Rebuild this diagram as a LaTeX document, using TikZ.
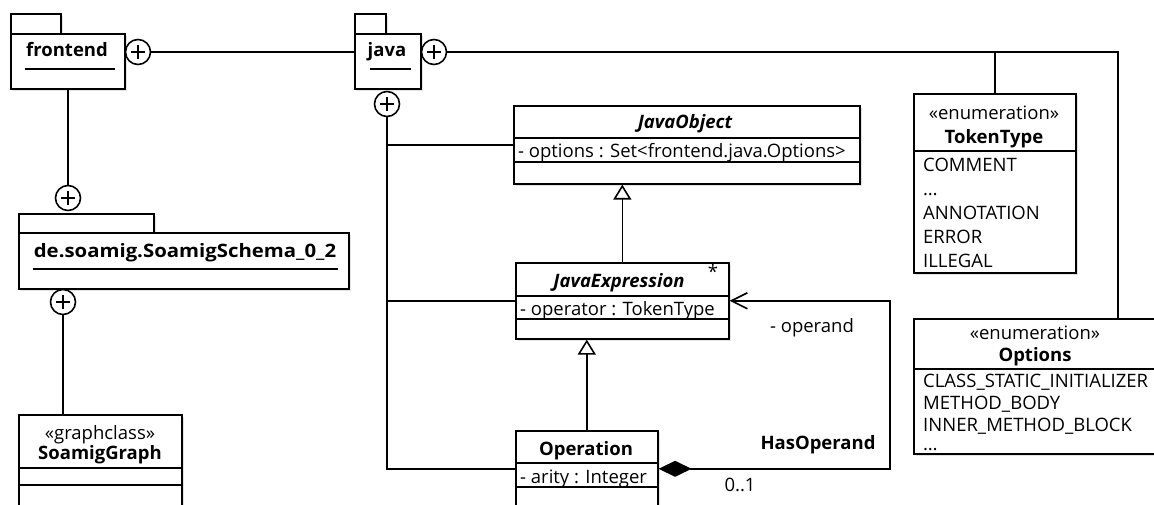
\documentclass[tikz,border=0pt]{standalone}
\usepackage{fontspec}
\setmainfont{Open Sans}
\usepackage{tikz}
\usetikzlibrary{arrows.meta,shadows,positioning}

\newcommand\umlfont{\fontsize{18.5}{24}\selectfont}

\tikzset{
    box/.style={draw, line width=1.6pt, fill=white, anchor=north west, inner sep=0pt,
        drop shadow={shadow xshift=2pt, shadow yshift=-2pt, fill=black!22}},
    lbl/.style={inner sep=0pt, text height=13pt, text depth=0pt, font=\umlfont},
    bold/.style={lbl, font=\umlfont\bfseries},
    boldit/.style={lbl, font=\umlfont\bfseries\itshape},
    link/.style={line width=1.6pt},
    gen/.style={-{Triangle[open, length=15pt, width=18pt, fill=white]}},
    contain/.style={circle, draw, line width=1.6pt, fill=white, minimum size=25pt, inner sep=0pt,
        path picture={
            \draw[line width=1.4pt] ([xshift=-7pt]path picture bounding box.center) -- ([xshift=7pt]path picture bounding box.center)
                ([yshift=-7pt]path picture bounding box.center) -- ([yshift=7pt]path picture bounding box.center);
        }},
}

\begin{document}
\begin{tikzpicture}[x=1pt, y=-1pt]
        \path[use as bounding box, clip] (0,0) rectangle (1154,505);

        \node[box, minimum width=50, minimum height=20] (feTab) at (10,13) {};
        \node[box, minimum width=114, minimum height=55] (fe) at (10,33) {};
        \node[bold] (feName) at (67,50) {frontend};
        \draw[link] (25,69) -- (115,69);

        \node[box, minimum width=31, minimum height=20] (javaTab) at (354,13) {};
        \node[box, minimum width=66, minimum height=55] (java) at (354,33) {};
        \node[bold] (javaName) at (387,50) {java};
        \draw[link] (370,69) -- (411,69);

        \node[box, minimum width=135, minimum height=19] (schTab) at (18,213) {};
        \node[box, minimum width=330, minimum height=56] (sch) at (18,232) {};
        \node[bold] (schName) at (185,251) {\scalebox{1.1}[1]{de.soamig.SoamigSchema\_0\_2}};
        \draw[link] (33,269) -- (338,269);

        \node[box, minimum width=163, minimum height=100] (graph) at (18,414) {};
        \node[lbl] at (100,433) {«graphclass»};
        \node[bold] at (100,453) {SoamigGraph};
        \draw[link] (18,468) -- (181,468) (18,485) -- (181,485);

        \node[box, minimum width=346, minimum height=78] (jobj) at (513,105) {};
        \node[boldit] at (685,122) {JavaObject};
        \draw[link] (513,138) -- (859,138) (513,162) -- (859,162);
        \node[lbl, anchor=west] at (518,151) {- options : Set<frontend.java.Options>};

        \node[box, minimum width=213, minimum height=76] (jexpr) at (515,262) {};
        \node[boldit] at (619,281) {JavaExpression};
        \node[lbl] at (713,272) {*};
        \draw[link] (515,296) -- (728,296) (515,319) -- (728,319);
        \node[lbl, anchor=west] at (520,309) {- operator : TokenType};

        \node[box, minimum width=142, minimum height=76] (op) at (515,430) {};
        \node[bold] at (586,449) {Operation};
        \draw[link] (515,463) -- (657,463) (515,487) -- (657,487);
        \node[lbl, anchor=west] at (520,477) {- arity : Integer};

        \node[box, minimum width=162, minimum height=179] (tok) at (913,93) {};
        \node[lbl] at (994,113) {«enumeration»};
        \node[bold] at (994,137) {TokenType};
        \draw[link] (913,151) -- (1075,151);
        \foreach \item [count=\i from 0] in {COMMENT, …, ANNOTATION, ERROR, ILLEGAL}
            \node[lbl, anchor=west] at (923,165+24*\i) {\item};

        \node[box, minimum width=244, minimum height=135] (opt) at (913,318) {};
        \node[lbl] at (1035,333) {«enumeration»};
        \node[bold] at (1035,355) {Options};
        \draw[link] (913,369) -- (1157,369);
        \foreach \item [count=\i from 0] in {CLASS\_STATIC\_INITIALIZER, METHOD\_BODY, INNER\_METHOD\_BLOCK}
            \node[lbl, anchor=west] at (923,381+22*\i) {\item};
        \node[lbl, anchor=west] at (923,444) {…};

        \node[contain] (fePlus) at (138,52) {};
        \node[contain] (javaPlusR) at (434,52) {};
        \node[contain] (javaPlusB) at (387,104) {};
        \node[contain] (schPlusTop) at (68,198) {};
        \node[contain] (schPlus) at (63,302) {};

        \coordinate (optBend) at (1118,52);
        \coordinate (assocBend) at (890,0);

        \draw[link] (fePlus) -- (fePlus -| java.west);
        \draw[link] (schPlusTop |- fe.south) -- (schPlusTop);
        \draw[link] (schPlus) -- (schPlus |- graph.north);
        \draw[link] (javaPlusR) -- (optBend) -- (optBend |- opt.north);
        \draw[link] (tok.north) -- (tok.north |- javaPlusR);

        \draw[link] (javaPlusB) -- (javaPlusB |- op.west) -- (op.west);
        \draw[link] (jobj.west) -- (jobj.west -| javaPlusB);
        \draw[link] (jexpr.west) -- (jexpr.west -| javaPlusB);

        \draw[link, gen] (jexpr.north) -- (jexpr.north |- jobj.south);
        \draw[link, gen] (op.north) -- (op.north |- jexpr.south);

        \draw[link, {Diamond[length=33pt, width=16pt]}-{Straight Barb[length=16pt, width=16pt]}]
            (op.east) -- (op.east -| assocBend) -- (assocBend |- jexpr.east) -- (jexpr.east);
        \node[lbl] (operandLbl) at (812,326) {- operand};
        \node[bold] (assocName) at (818,443) {HasOperand};
        \node[lbl] (multLbl) at (740,485) {0..1};
\end{tikzpicture}
\end{document}
